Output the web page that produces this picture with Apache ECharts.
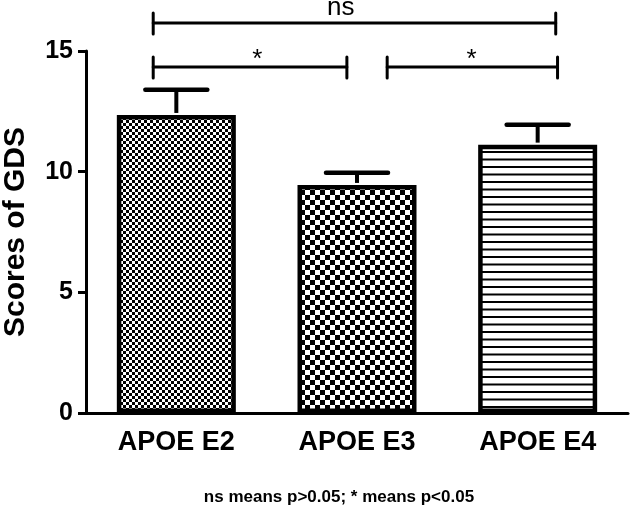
<!DOCTYPE html>
<html>
<head>
<meta charset="utf-8">
<script src="https://cdn.jsdelivr.net/npm/echarts@6/dist/echarts.min.js"></script>
<style>
html,body{margin:0;padding:0;background:#fff;}
#chart{width:634px;height:513px;}
</style>
</head>
<body>
<div id="chart"></div>
<script>
// ---- data ----
const categories = ['APOE E2', 'APOE E3', 'APOE E4'];
const means = [12.35, 9.45, 11.12];
const upperErr = [13.39, 9.95, 11.94];
const yTicks = [0, 5, 10, 15];
// significance brackets (x in category units, y in score units)
const bracketFrom = [-0.128, -0.128, 1.167];
const bracketTo = [2.10, 0.944, 2.11];
const bracketY = [16.16, 14.34, 14.34];
const bracketLabelX = [0.91, 0.448, 1.634];
const bracketLabels = ['ns', '*', '*'];
const footnote = 'ns means p>0.05; * means p<0.05';

// ---- patterns ----
function checker(size, c1, c2) {
  const cv = document.createElement('canvas');
  cv.width = size * 2; cv.height = size * 2;
  const ctx = cv.getContext('2d');
  ctx.fillStyle = c2; ctx.fillRect(0, 0, size * 2, size * 2);
  ctx.fillStyle = c1;
  ctx.fillRect(0, 0, size, size);
  ctx.fillRect(size, size, size, size);
  return cv;
}
function hlines() {
  const cv = document.createElement('canvas');
  cv.width = 8; cv.height = 15;
  const ctx = cv.getContext('2d');
  ctx.fillStyle = '#fff'; ctx.fillRect(0, 0, 8, 15);
  ctx.fillStyle = '#000';
  ctx.fillRect(0, 1, 8, 2);
  ctx.fillRect(0, 8.5, 8, 2);
  return cv;
}
const patterns = [
  { image: checker(3, '#000', '#fff'), repeat: 'repeat' },
  { image: checker(5, '#000', '#fff'), repeat: 'repeat' },
  { image: hlines(), repeat: 'repeat' }
];

const chart = echarts.init(document.getElementById('chart'), null, { renderer: 'canvas' });
const FONT = '"Liberation Sans", Arial, sans-serif';

chart.setOption({
  animation: false,
  backgroundColor: '#fff',
  grid: { left: 86, right: 6, top: 51, bottom: 100, containLabel: false, outerBoundsMode: 'none' },
  xAxis: [{
    type: 'category',
    data: categories,
    axisLine: { onZero: false, lineStyle: { color: '#000', width: 3 } },
    axisTick: { alignWithLabel: true, length: 8, lineStyle: { color: '#000', width: 3 } },
    axisLabel: { color: '#000', fontFamily: FONT, fontWeight: 'bold', fontSize: 27, margin: 16 }
  }, {
    type: 'value', min: -0.5, max: 2.5, show: false
  }],
  yAxis: [{
    type: 'value', min: 0, max: 15, interval: 5,
    name: 'Scores of GDS',
    nameLocation: 'middle', nameRotate: 90, nameGap: 55,
    nameTextStyle: { color: '#000', fontFamily: FONT, fontWeight: 'bold', fontSize: 30 },
    axisLine: { show: true, onZero: false, lineStyle: { color: '#000', width: 3 } },
    axisTick: { show: true, length: 8, lineStyle: { color: '#000', width: 3 } },
    axisLabel: { color: '#000', fontFamily: FONT, fontWeight: 'bold', fontSize: 25, margin: 13,
      formatter: v => yTicks.indexOf(v) >= 0 ? String(v) : '' },
    splitLine: { show: false }
  }],
  series: [{
    type: 'bar',
    barWidth: 119,
    data: means.map((v, i) => ({ value: v, itemStyle: { color: patterns[i], borderColor: '#000', borderWidth: 4.5 } })),
    z: 2
  }, {
    type: 'custom',
    z: 3,
    data: means.map((m, i) => [i, m, upperErr[i]]),
    renderItem: function (params, api) {
      const p0 = api.coord([api.value(0), api.value(1)]);
      const p1 = api.coord([api.value(0), api.value(2)]);
      const half = 31;
      return {
        type: 'group',
        children: [
          { type: 'line', shape: { x1: p0[0], y1: p0[1] - 2, x2: p1[0], y2: p1[1] }, style: { stroke: '#000', lineWidth: 4 } },
          { type: 'line', shape: { x1: p1[0] - half, y1: p1[1], x2: p1[0] + half, y2: p1[1] }, style: { stroke: '#000', lineWidth: 4.5, lineCap: 'round' } }
        ]
      };
    }
  }, {
    type: 'custom',
    xAxisIndex: 1,
    clip: false,
    z: 4,
    data: bracketY.map((y, i) => [bracketFrom[i], bracketTo[i], y, bracketLabelX[i]]),
    renderItem: function (params, api) {
      const a = api.coord([api.value(0), api.value(2)]);
      const b = api.coord([api.value(1), api.value(2)]);
      const l = api.coord([api.value(3), api.value(2)]);
      const lab = bracketLabels[params.dataIndex];
      const st = { stroke: '#000', lineWidth: 3, lineCap: 'round' };
      return {
        type: 'group',
        children: [
          { type: 'line', shape: { x1: a[0], y1: a[1], x2: b[0], y2: b[1] }, style: st },
          { type: 'line', shape: { x1: a[0], y1: a[1] - 10, x2: a[0], y2: a[1] + 11 }, style: st },
          { type: 'line', shape: { x1: b[0], y1: b[1] - 10, x2: b[0], y2: b[1] + 11 }, style: st },
          { type: 'text', x: l[0], y: l[1] - (lab === 'ns' ? 15 : 7),
            style: { text: lab, fill: '#000', font: '26px ' + FONT, textAlign: 'center', textVerticalAlign: 'middle' } }
        ]
      };
    }
  }],
  graphic: [{
    type: 'text', x: 339, y: 497,
    style: { text: footnote, fill: '#000', font: 'bold 17px ' + FONT, textAlign: 'center', textVerticalAlign: 'middle' }
  }]
});
</script>
</body>
</html>
